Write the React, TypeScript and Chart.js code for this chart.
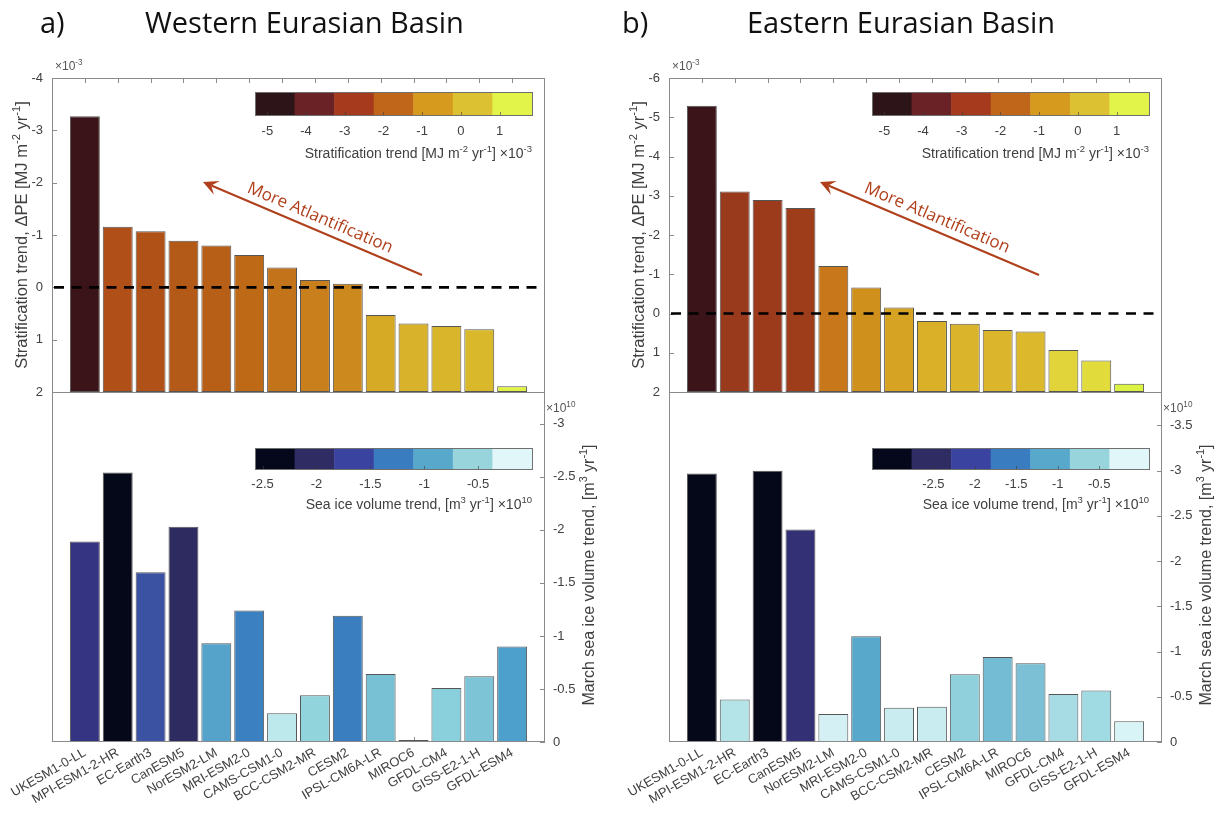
import React, { useEffect, useRef } from 'react';
import { Chart, registerables } from 'chart.js';
Chart.register(...registerables);

// ---------------- data ----------------
const MODELS = [
  'UKESM1-0-LL', 'MPI-ESM1-2-HR', 'EC-Earth3', 'CanESM5', 'NorESM2-LM', 'MRI-ESM2-0',
  'CAMS-CSM1-0', 'BCC-CSM2-MR', 'CESM2', 'IPSL-CM6A-LR', 'MIROC6', 'GFDL-CM4',
  'GISS-E2-1-H', 'GFDL-ESM4',
];

// stratification trend (x10^-3 MJ m^-2 yr^-1)
const STRAT_WEST = [-3.27, -1.16, -1.07, -0.89, -0.80, -0.62, -0.38, -0.14, -0.07, 0.53, 0.69, 0.74, 0.80, 1.89];
const STRAT_EAST = [-5.29, -3.11, -2.89, -2.69, -1.21, -0.66, -0.15, 0.19, 0.26, 0.42, 0.46, 0.93, 1.20, 1.79];
// March sea ice volume trend (x10^10 m^3 yr^-1)
const ICE_WEST = [-1.89, -2.54, -1.60, -2.03, -0.93, -1.24, -0.27, -0.44, -1.19, -0.64, -0.02, -0.51, -0.62, -0.90];
const ICE_EAST = [-2.97, -0.47, -3.00, -2.35, -0.31, -1.17, -0.38, -0.39, -0.75, -0.94, -0.87, -0.53, -0.57, -0.23];

const STRAT_TICKS_WEST = [-4, -3, -2, -1, 0, 1, 2];
const STRAT_TICKS_EAST = [-6, -5, -4, -3, -2, -1, 0, 1, 2];
const ICE_TICKS_WEST = [-3, -2.5, -2, -1.5, -1, -0.5, 0];
const ICE_TICKS_EAST = [-3.5, -3, -2.5, -2, -1.5, -1, -0.5, 0];
const STRAT_LIM_WEST = [-4, 2];
const STRAT_LIM_EAST = [-6, 2];
const ICE_LIM_WEST = [-3.3, 0];
const ICE_LIM_EAST = [-3.87, 0];

// colorbars
const STRAT_CB_TICKS = [-5, -4, -3, -2, -1, 0, 1];
const STRAT_CB_RANGE = [-5.32, 1.84];
const ICE_CB_TICKS = [-2.5, -2, -1.5, -1, -0.5];
const ICE_CB_RANGE_WEST = [-2.57, 0.0];
const ICE_CB_RANGE_EAST = [-3.24, 0.1];

// ---------------- styles ----------------
const STRAT_CB_COLORS = ['#2d1418', '#6a2226', '#a53b1c', '#c0661a', '#d69a1f', '#dcc232', '#e2f44a'];
const ICE_CB_COLORS = ['#05081a', '#2e2c62', '#3a44a0', '#3a7cc0', '#58a8cc', '#98d4dc', '#e0f6f8'];

const STRAT_COLORS_WEST = ['#3a1418', '#b04f18', '#b05218', '#b35a18', '#b75f16', '#bd6916', '#c3741a', '#c87f1c', '#cb891e', '#d6aa24', '#d8b22a', '#d8b52b', '#d9b82c', '#e0f244'];
const STRAT_COLORS_EAST = ['#3a1418', '#993a1c', '#9b3b1c', '#9e3d1a', '#c8781a', '#d0901c', '#d6a422', '#d9b028', '#dab42a', '#dbb62c', '#dcb82c', '#e0d43a', '#e1dc3c', '#dcf240'];
const ICE_COLORS_WEST = ['#343482', '#050818', '#3b52a2', '#2d2b60', '#55a2ca', '#3b80c0', '#bde9ed', '#92d4dc', '#3b7ec0', '#78c0d4', '#e2f6f8', '#8ad0dc', '#7cc4d6', '#4ea0cc'];
const ICE_COLORS_EAST = ['#050818', '#b4e4e8', '#050818', '#333075', '#d4f0f4', '#58a8cc', '#c8ecf0', '#c8ecf0', '#90d0dc', '#74bcd4', '#7cc0d6', '#a8dce4', '#a0dae2', '#d8f4f6'];

const SANS = '"Liberation Sans", Arial, Helvetica, sans-serif';
const TITLE_FONT = '"Open Sans", "Noto Sans", sans-serif';
const AXIS = '#8a8a8a';
const TICK_COLOR = '#404040';
const EDGE = '#555555';
const ARROW = '#b0401c';

type Part = [string, number];

function drawRich(ctx: CanvasRenderingContext2D, parts: Part[], x: number, y: number, size: number,
  align: 'left' | 'center' | 'right', color: string, family = SANS) {
  const sup = size * 0.68;
  let total = 0;
  const widths = parts.map(([t, s]) => {
    ctx.font = `${s ? sup : size}px ${family}`;
    const w = ctx.measureText(t).width;
    total += w;
    return w;
  });
  let cx = align === 'left' ? x : align === 'right' ? x - total : x - total / 2;
  ctx.fillStyle = color;
  ctx.textAlign = 'left';
  ctx.textBaseline = 'alphabetic';
  parts.forEach(([t, s], i) => {
    ctx.font = `${s ? sup : size}px ${family}`;
    ctx.fillText(t, cx, s ? y - size * 0.42 : y);
    cx += widths[i];
  });
}

function drawColorbar(ctx: CanvasRenderingContext2D, x: number, y: number, w: number, h: number,
  colors: string[], range: number[], ticks: number[], title: Part[], labelGap: number, titleGap: number) {
  const n = colors.length;
  const cw = w / n;
  colors.forEach((c, i) => {
    ctx.fillStyle = c;
    ctx.fillRect(x + i * cw, y, cw + 0.5, h);
  });
  ctx.strokeStyle = '#707070';
  ctx.lineWidth = 1;
  ctx.strokeRect(Math.round(x) + 0.5, Math.round(y) + 0.5, Math.round(w), Math.round(h));
  ticks.forEach((v) => {
    const px = x + ((v - range[0]) / (range[1] - range[0])) * w;
    ctx.strokeStyle = 'rgba(60,60,60,0.6)';
    ctx.beginPath();
    ctx.moveTo(Math.round(px) + 0.5, y + h);
    ctx.lineTo(Math.round(px) + 0.5, y + h - 3);
    ctx.stroke();
    ctx.fillStyle = TICK_COLOR;
    ctx.font = `13px ${SANS}`;
    ctx.textAlign = 'center';
    ctx.textBaseline = 'middle';
    ctx.fillText(String(v), px, y + h + labelGap);
  });
  drawRich(ctx, title, x + w, y + h + titleGap + 5, 14, 'right', TICK_COLOR);
}

interface PanelSpec {
  plotLeft: number;
  plotRight: number;
  letter: string;
  letterX: number;
  title: string;
  titleX: number;
  strat: number[];
  stratColors: string[];
  stratLim: number[];
  stratTicks: number[];
  ice: number[];
  iceColors: string[];
  iceLim: number[];
  iceTicks: number[];
  iceCbRange: number[];
}

const TOP_Y0 = 78;
const MID_Y = 392;
const BOT_Y = 742;
const BOT_CANVAS_Y = 380;
const RIGHT_AXIS_W = 62;

const STRAT_TITLE: Part[] = [['Stratification trend [MJ m', 0], ['-2', 1], [' yr', 0], ['-1', 1], ['] \u00d710', 0], ['-3', 1]];
const ICE_TITLE: Part[] = [['Sea ice volume trend, [m', 0], ['3', 1], [' yr', 0], ['-1', 1], ['] \u00d710', 0], ['10', 1]];
const STRAT_AXIS_TITLE: Part[] = [['Stratification trend, \u0394PE [MJ m', 0], ['-2', 1], [' yr', 0], ['-1', 1], [']', 0]];
const ICE_AXIS_TITLE: Part[] = [['March sea ice volume trend, [m', 0], ['3', 1], [' yr', 0], ['-1', 1], [']', 0]];

const zeroPad = (s: any) => {
  s.paddingTop = 0;
  s.paddingBottom = 0;
  s.paddingLeft = 0;
  s.paddingRight = 0;
};

function topOverlay(p: PanelSpec) {
  const canvasX = p.plotLeft - 52;
  return {
    id: 'topOverlay',
    beforeDatasetsDraw(chart: any) {
      const { ctx, chartArea: a, scales } = chart;
      ctx.save();
      ctx.strokeStyle = AXIS;
      ctx.lineWidth = 1;
      ctx.beginPath();
      p.stratTicks.forEach((v) => {
        const y = Math.round(scales.y.getPixelForValue(v)) + 0.5;
        ctx.moveTo(a.left, y);
        ctx.lineTo(a.left + 5, y);
      });
      MODELS.forEach((_, i) => {
        const x = Math.round(scales.x.getPixelForValue(i + 1)) + 0.5;
        ctx.moveTo(x, a.top);
        ctx.lineTo(x, a.top + 5);
      });
      ctx.stroke();
      ctx.restore();
    },
    afterDraw(chart: any) {
      const { ctx, chartArea: a, scales } = chart;
      ctx.save();
      // box
      ctx.strokeStyle = AXIS;
      ctx.lineWidth = 1;
      ctx.strokeRect(Math.round(a.left) + 0.5, Math.round(a.top) + 0.5, Math.round(a.width) - 1, Math.round(a.height));
      // zero dashed line
      const y0 = scales.y.getPixelForValue(0);
      ctx.strokeStyle = '#000';
      ctx.lineWidth = 2.6;
      ctx.setLineDash([10, 7.5]);
      ctx.beginPath();
      ctx.moveTo(a.left + 2, y0);
      ctx.lineTo(a.right - 2, y0);
      ctx.stroke();
      ctx.setLineDash([]);
      // arrow
      const tx = a.left + 370, ty = a.top + 197;
      const hx = a.left + 151, hy = a.top + 104;
      const dx = hx - tx, dy = hy - ty;
      const len = Math.hypot(dx, dy);
      const ux = dx / len, uy = dy / len;
      const nx = -uy, ny = ux;
      const L = 15, W = 7.5;
      ctx.strokeStyle = ARROW;
      ctx.fillStyle = ARROW;
      ctx.lineWidth = 2;
      ctx.beginPath();
      ctx.moveTo(tx, ty);
      ctx.lineTo(hx - ux * L * 0.6, hy - uy * L * 0.6);
      ctx.stroke();
      ctx.beginPath();
      ctx.moveTo(hx, hy);
      ctx.lineTo(hx - ux * L + nx * W, hy - uy * L + ny * W);
      ctx.lineTo(hx - ux * L * 0.6, hy - uy * L * 0.6);
      ctx.lineTo(hx - ux * L - nx * W, hy - uy * L - ny * W);
      ctx.closePath();
      ctx.fill();
      // arrow text
      const ang = Math.atan2(ty - hy, tx - hx);
      ctx.save();
      ctx.translate(a.left + 268, a.top + 140);
      ctx.rotate(ang);
      ctx.font = `17px ${TITLE_FONT}`;
      ctx.fillStyle = ARROW;
      ctx.textAlign = 'center';
      ctx.textBaseline = 'middle';
      ctx.fillText('More Atlantification', 0, 0);
      ctx.restore();
      // colorbar
      drawColorbar(ctx, a.left + 203, a.top + 14, 277, 23, STRAT_CB_COLORS, STRAT_CB_RANGE, STRAT_CB_TICKS, STRAT_TITLE, 16, 38);
      // x10^-3
      drawRich(ctx, [['\u00d710', 0], ['-3', 1]], a.left + 3, a.top - 8, 12, 'left', '#555');
      // y axis title
      ctx.save();
      ctx.translate(a.left - 31, (a.top + a.bottom) / 2);
      ctx.rotate(-Math.PI / 2);
      drawRich(ctx, STRAT_AXIS_TITLE, 0, 5.5, 16.5, 'center', TICK_COLOR);
      ctx.restore();
      // panel titles
      ctx.font = `29px ${TITLE_FONT}`;
      ctx.fillStyle = '#111';
      ctx.textAlign = 'left';
      ctx.textBaseline = 'alphabetic';
      ctx.fillText(p.letter, p.letterX - canvasX, 33);
      ctx.fillText(p.title, p.titleX - canvasX, 33);
      ctx.restore();
    },
  };
}

function bottomOverlay(p: PanelSpec) {
  return {
    id: 'bottomOverlay',
    beforeDatasetsDraw(chart: any) {
      const { ctx, chartArea: a, scales } = chart;
      ctx.save();
      ctx.strokeStyle = AXIS;
      ctx.lineWidth = 1;
      ctx.beginPath();
      p.iceTicks.forEach((v) => {
        const y = Math.round(scales.y.getPixelForValue(v)) + 0.5;
        ctx.moveTo(a.right, y);
        ctx.lineTo(a.right - 5, y);
      });
      MODELS.forEach((_, i) => {
        const x = Math.round(scales.x.getPixelForValue(i + 1)) + 0.5;
        ctx.moveTo(x, a.bottom);
        ctx.lineTo(x, a.bottom - 5);
      });
      ctx.stroke();
      ctx.restore();
    },
    afterDraw(chart: any) {
      const { ctx, chartArea: a } = chart;
      ctx.save();
      ctx.strokeStyle = AXIS;
      ctx.lineWidth = 1;
      ctx.strokeRect(Math.round(a.left) + 0.5, Math.round(a.top) + 0.5, Math.round(a.width) - 1, Math.round(a.height) - 1);
      drawColorbar(ctx, a.left + 203, a.top + 56, 277, 21, ICE_CB_COLORS, p.iceCbRange, ICE_CB_TICKS, ICE_TITLE, 15, 35);
      drawRich(ctx, [['\u00d710', 0], ['10', 1]], a.right + 1, a.top + 20, 12, 'left', '#555');
      ctx.save();
      ctx.translate(a.right + 43, (a.top + a.bottom) / 2 + 8);
      ctx.rotate(-Math.PI / 2);
      drawRich(ctx, ICE_AXIS_TITLE, 0, 5.5, 16, 'center', TICK_COLOR);
      ctx.restore();
      ctx.restore();
    },
  };
}

function topConfig(p: PanelSpec): any {
  const data = p.strat.map((v, i) => ({ x: i + 1, y: v }));
  return {
    type: 'bar',
    data: {
      datasets: [{
        data,
        backgroundColor: p.stratColors,
        borderColor: EDGE,
        borderWidth: 1,
        borderSkipped: false,
        base: p.stratLim[1],
        categoryPercentage: 1,
        barPercentage: 0.91,
      }],
    },
    options: {
      responsive: false,
      animation: false,
      events: [],
      layout: { padding: { top: TOP_Y0, bottom: 400 - MID_Y, right: 12, left: 0 } },
      plugins: { legend: { display: false }, tooltip: { enabled: false } },
      scales: {
        x: { type: 'linear', min: 0, max: 15, offset: false, display: false, afterFit: zeroPad },
        y: {
          type: 'linear',
          reverse: true,
          min: p.stratLim[0],
          max: p.stratLim[1],
          afterFit: (s: any) => { s.width = 52; zeroPad(s); },
          afterBuildTicks: (s: any) => { s.ticks = p.stratTicks.map((v) => ({ value: v })); },
          grid: { display: false, drawTicks: false },
          border: { display: false },
          ticks: { padding: 9, color: TICK_COLOR, font: { family: SANS, size: 13 }, callback: (v: number) => String(v) },
        },
      },
    },
    plugins: [topOverlay(p)],
  };
}

function bottomConfig(p: PanelSpec): any {
  const data = p.ice.map((v, i) => ({ x: i + 1, y: v }));
  return {
    type: 'bar',
    data: {
      datasets: [{
        data,
        backgroundColor: p.iceColors,
        borderColor: EDGE,
        borderWidth: 1,
        borderSkipped: false,
        categoryPercentage: 1,
        barPercentage: 0.91,
      }],
    },
    options: {
      responsive: false,
      animation: false,
      events: [],
      layout: { padding: { top: MID_Y - BOT_CANVAS_Y, bottom: 0, right: 0, left: 52 } },
      plugins: { legend: { display: false }, tooltip: { enabled: false } },
      scales: {
        x: {
          type: 'linear',
          min: 0,
          max: 15,
          offset: false,
          afterBuildTicks: (s: any) => { s.ticks = MODELS.map((_, i) => ({ value: i + 1 })); },
          afterFit: (s: any) => { s.height = 822 - BOT_Y; zeroPad(s); },
          grid: { display: false, drawTicks: false, offset: false },
          border: { display: false },
          ticks: {
            autoSkip: false,
            minRotation: 30,
            maxRotation: 30,
            padding: 3,
            color: TICK_COLOR,
            font: { family: SANS, size: 13 },
            callback: (v: number) => MODELS[v - 1] ?? '',
          },
        },
        y: {
          type: 'linear',
          position: 'right',
          reverse: true,
          min: p.iceLim[0],
          max: p.iceLim[1],
          afterFit: (s: any) => { s.width = RIGHT_AXIS_W; zeroPad(s); },
          afterBuildTicks: (s: any) => { s.ticks = p.iceTicks.map((v) => ({ value: v })); },
          grid: { display: false, drawTicks: false },
          border: { display: false },
          ticks: { padding: 8, color: TICK_COLOR, font: { family: SANS, size: 13 }, callback: (v: number) => String(v) },
        },
      },
    },
    plugins: [bottomOverlay(p)],
  };
}

const WEST: PanelSpec = {
  plotLeft: 52, plotRight: 545, letter: 'a)', letterX: 40, title: 'Western Eurasian Basin', titleX: 145,
  strat: STRAT_WEST, stratColors: STRAT_COLORS_WEST, stratLim: STRAT_LIM_WEST, stratTicks: STRAT_TICKS_WEST,
  ice: ICE_WEST, iceColors: ICE_COLORS_WEST, iceLim: ICE_LIM_WEST, iceTicks: ICE_TICKS_WEST, iceCbRange: ICE_CB_RANGE_WEST,
};
const EAST: PanelSpec = {
  plotLeft: 669, plotRight: 1162, letter: 'b)', letterX: 622, title: 'Eastern Eurasian Basin', titleX: 747,
  strat: STRAT_EAST, stratColors: STRAT_COLORS_EAST, stratLim: STRAT_LIM_EAST, stratTicks: STRAT_TICKS_EAST,
  ice: ICE_EAST, iceColors: ICE_COLORS_EAST, iceLim: ICE_LIM_EAST, iceTicks: ICE_TICKS_EAST, iceCbRange: ICE_CB_RANGE_EAST,
};

function PanelCanvases({ p }: { p: PanelSpec }) {
  const topRef = useRef<HTMLCanvasElement>(null);
  const botRef = useRef<HTMLCanvasElement>(null);
  useEffect(() => {
    const c1 = new Chart(topRef.current as HTMLCanvasElement, topConfig(p));
    const c2 = new Chart(botRef.current as HTMLCanvasElement, bottomConfig(p));
    return () => { c1.destroy(); c2.destroy(); };
  }, [p]);
  const topW = p.plotRight - p.plotLeft + 52 + 12;
  const botW = p.plotRight - p.plotLeft + 52 + RIGHT_AXIS_W;
  const botH = 822 - BOT_CANVAS_Y;
  return (
    <>
      <canvas ref={topRef} width={topW} height={400}
        style={{ position: 'absolute', left: p.plotLeft - 52, top: 0, width: topW, height: 400 }} />
      <canvas ref={botRef} width={botW} height={botH}
        style={{ position: 'absolute', left: p.plotLeft - 52, top: BOT_CANVAS_Y, width: botW, height: botH }} />
    </>
  );
}

export default function App() {
  return (
    <div style={{ position: 'absolute', left: 0, top: 0, width: 1227, height: 822, overflow: 'hidden', background: '#fff' }}>
      <PanelCanvases p={WEST} />
      <PanelCanvases p={EAST} />
    </div>
  );
}
